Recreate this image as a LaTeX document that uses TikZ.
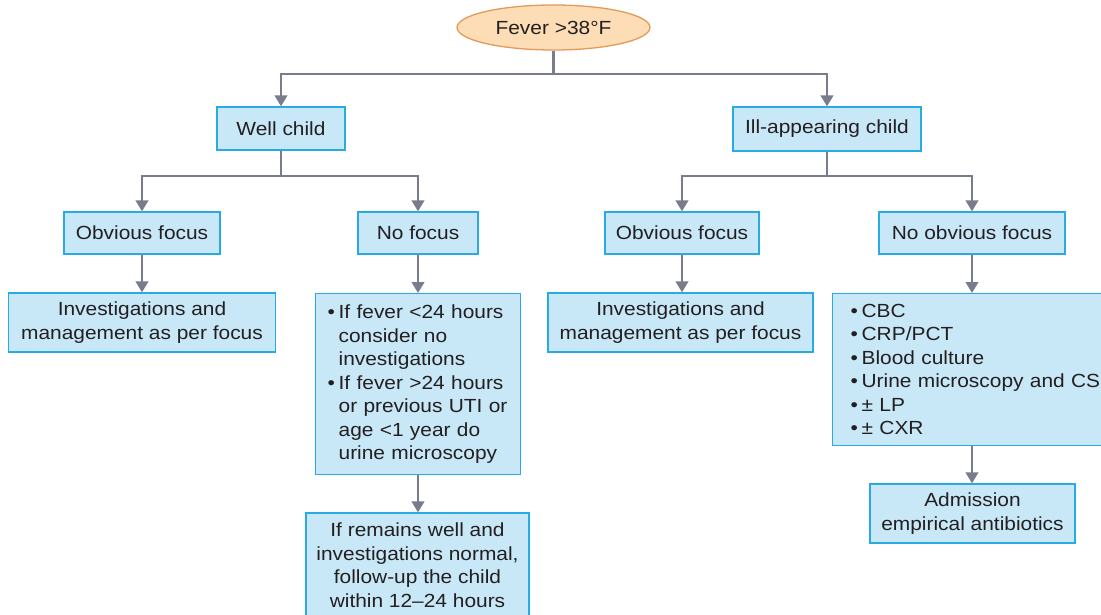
\documentclass[tikz,border=0pt]{standalone}
\usepackage{fontspec}
\setmainfont[FakeStretch=1.1]{Liberation Sans}
\usetikzlibrary{shapes.geometric,arrows.meta}
\definecolor{boxfill}{HTML}{C8E8F8}
\definecolor{boxline}{HTML}{2AAAE2}
\definecolor{ovfill}{HTML}{FCDDB5}
\definecolor{ovline}{HTML}{E39A5A}
\definecolor{arr}{HTML}{787C8C}
\definecolor{txt}{HTML}{231F20}
\newcommand{\bul}{\makebox[11pt][l]{•}}
\newcommand{\ind}{\hspace*{11pt}}
\begin{document}
\begin{tikzpicture}[x=1pt,y=-1pt,
  box/.style={draw=boxline, fill=boxfill, line width=1.3pt, inner sep=0pt,
    font=\fontsize{19}{23.5}\selectfont, text=txt, align=center},
  listbox/.style={box, align=left, anchor=north west},
  oval/.style={ellipse, draw=ovline, fill=ovfill, line width=1.3pt, inner sep=0pt,
    font=\fontsize{19}{23.5}\selectfont, text=txt},
  ln/.style={draw=arr, line width=2.6pt},
  conn/.style={ln, -{Triangle[width=12.5pt,length=11pt]}}]
\useasboundingbox (0,0) rectangle (1101,615);
\clip (0,0) rectangle (1101,615);

\node[oval, minimum width=193pt, minimum height=45pt] (fever) at (553.5,27.5) {Fever >38°F};

\node[box, minimum width=128pt, minimum height=43pt] (well) at (281,128.5) {Well child};
\node[box, minimum width=188pt, minimum height=44pt] (ill) at (827,129) {Ill-appearing child};

\node[box, minimum width=156pt, minimum height=42pt] (ofl) at (142,233) {Obvious focus};
\node[box, minimum width=120pt, minimum height=42pt] (nof) at (418,233) {No focus};
\node[box, minimum width=154pt, minimum height=42pt] (ofr) at (682,233) {Obvious focus};
\node[box, minimum width=186pt, minimum height=42pt] (noof) at (972,233) {No obvious focus};

\node[box, minimum width=267pt, minimum height=59pt] (invl) at (142,322.5) {Investigations and\\management as per focus};
\node[box, minimum width=265pt, minimum height=59pt] (invr) at (680.5,322.5) {Investigations and\\management as per focus};

\node[listbox, text width=181pt, inner xsep=12pt, minimum height=181pt] (mid) at (315,293)
 {\bul If fever <24 hours\\\ind consider no\\\ind investigations\\\bul If fever >24 hours\\\ind or previous UTI or\\\ind age <1 year do\\\ind urine microscopy};

\node[box, minimum width=223pt, minimum height=104pt] (fol) at (417.5,565)
 {If remains well and\\investigations normal,\\follow-up the child\\within 12–24 hours};

\node[listbox, text width=270pt, inner xsep=18pt, minimum height=152pt] (tests) at (832,293)
 {\bul CBC\\\bul CRP/PCT\\\bul Blood culture\\\bul Urine microscopy and CS\\\bul ± LP\\\bul ± CXR};

\node[box, minimum width=205pt, minimum height=59pt] (adm) at (972.5,513.5) {Admission\\empirical antibiotics};

\coordinate (j0) at (553.5,74);
\coordinate (j1) at (281,176);
\coordinate (j2) at (827,176);

\draw[ln] (fever.south) -- (j0);
\draw[conn] (j0) -| (well.north);
\draw[conn] (j0) -| (ill.north);

\draw[ln] (well.south) -- (j1);
\draw[conn] (j1) -| (ofl.north);
\draw[conn] (j1) -| (nof.north);

\draw[ln] (ill.south) -- (j2);
\draw[conn] (j2) -| (ofr.north);
\draw[conn] (j2) -| (noof.north);

\draw[conn] (ofl.south) -- (invl.north -| ofl.south);
\draw[conn] (ofr.south) -- (invr.north -| ofr.south);
\draw[conn] (nof.south) -- (nof.south |- mid.north);
\draw[conn] (nof.south |- mid.south) -- (fol.north -| nof.south);
\draw[conn] (noof.south) -- (noof.south |- tests.north);
\draw[conn] (noof.south |- tests.south) -- (adm.north -| noof.south);
\end{tikzpicture}
\end{document}
